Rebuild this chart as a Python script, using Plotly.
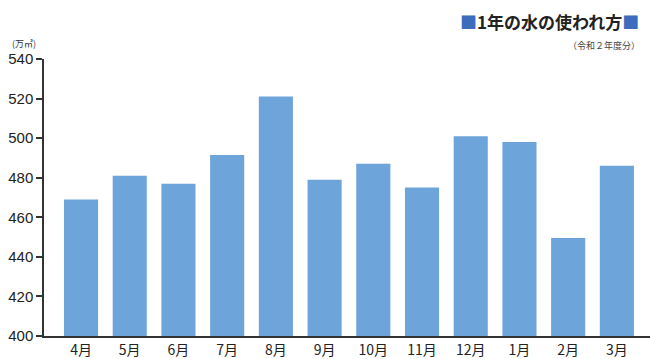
import plotly.graph_objects as go

months = ["4月", "5月", "6月", "7月", "8月", "9月", "10月", "11月", "12月", "1月", "2月", "3月"]
usage = [469, 481, 477, 491.5, 521, 479, 487, 475, 501, 498, 449.5, 486]
y_ticks = [400, 420, 440, 460, 480, 500, 520, 540]

FONT = "Noto Sans CJK JP"

fig = go.Figure(go.Bar(
    x=list(range(len(months))),
    y=usage,
    marker=dict(color="#6da4d9", line=dict(width=0)),
    width=0.7,
))

fig.update_layout(
    width=650, height=359,
    margin=dict(l=44, r=0, t=59, b=20),
    paper_bgcolor="white", plot_bgcolor="white",
    showlegend=False,
    font=dict(family=FONT, color="#222"),
    xaxis=dict(
        range=[-0.76, 11.68],
        tickmode="array",
        tickvals=list(range(len(months))),
        ticktext=months,
        showgrid=False, zeroline=False,
        showline=True, linecolor="#333", linewidth=1.5,
        ticks="", tickfont=dict(size=14, family=FONT, color="#222"),
    ),
    yaxis=dict(
        range=[400, 540],
        tickmode="array",
        tickvals=y_ticks,
        showgrid=False, zeroline=False,
        showline=True, linecolor="#333", linewidth=1.5,
        ticks="outside", ticklen=6, tickcolor="#333", tickwidth=1.5,
        tickfont=dict(size=15, family="Liberation Sans", color="#222"),
    ),
)

fig.add_annotation(text="(万㎥)", xref="paper", yref="paper",
                   x=(10 - 44) / 606, y=(339 - 43) / 280, xanchor="left", yanchor="middle",
                   showarrow=False, font=dict(size=9, family=FONT, color="#333"))
fig.add_annotation(text="<span style='color:#3d6cbd'>■</span><b>1年の水の使われ方</b><span style='color:#3d6cbd'>■</span>",
                   xref="paper", yref="paper",
                   x=(641 - 44) / 606, y=(339 - 21) / 280, xanchor="right", yanchor="middle",
                   showarrow=False, font=dict(size=17, family=FONT, color="#222"))
fig.add_annotation(text="（令和２年度分）", xref="paper", yref="paper",
                   x=(642 - 44) / 606, y=(339 - 45) / 280, xanchor="right", yanchor="middle",
                   showarrow=False, font=dict(size=9, family=FONT, color="#444"))

fig.write_html("out.html")
